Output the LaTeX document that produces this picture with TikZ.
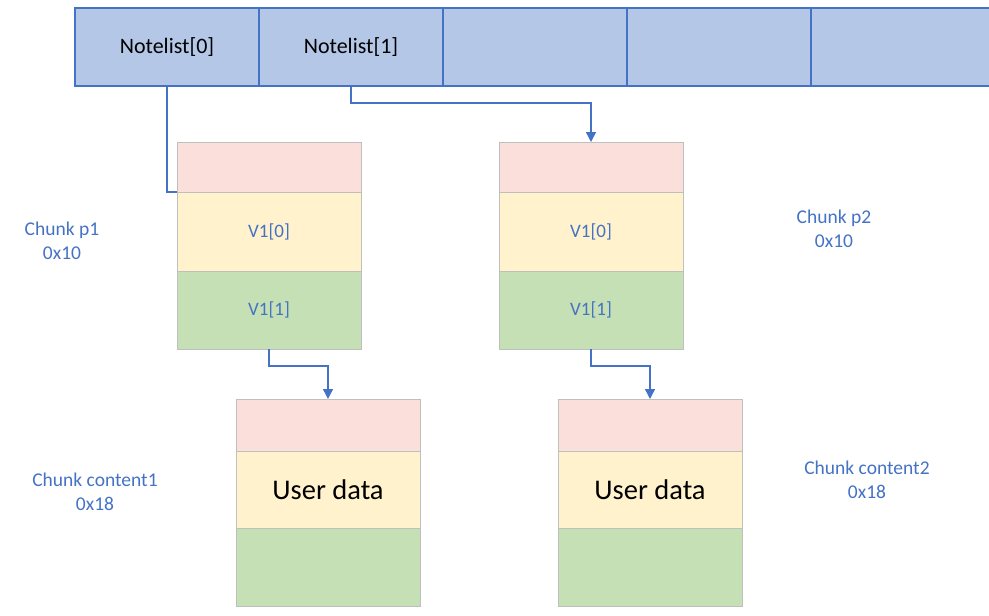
\documentclass[tikz,border=0pt]{standalone}
\usepackage{fontspec}
\setmainfont{Carlito}
\usetikzlibrary{arrows.meta, positioning}

\definecolor{listfill}{HTML}{B4C7E7}
\definecolor{listline}{HTML}{4472C4}
\definecolor{headfill}{HTML}{FADFDA}
\definecolor{datafill}{HTML}{FFF2CC}
\definecolor{tailfill}{HTML}{C5E0B4}
\definecolor{cellline}{HTML}{BFBFBF}

\begin{document}
\begin{tikzpicture}[
          x=1pt, y=-1pt,
          slot/.style={draw=listline, line width=1.5pt, fill=listfill, minimum width=184pt,
                       minimum height=78pt, inner sep=0pt, outer sep=0pt,
                       font=\fontsize{22}{26}\selectfont},
          part/.style={draw=cellline, line width=0.8pt, minimum width=184pt,
                       inner sep=0pt, outer sep=0pt},
          head/.style={part, fill=headfill},
          body/.style={part, fill=datafill, text=listline, font=\fontsize{19}{23}\selectfont},
          tail/.style={part, fill=tailfill, text=listline, font=\fontsize{19}{23}\selectfont},
          tag/.style={align=center, text=listline, font=\fontsize{19.5}{24}\selectfont},
          link/.style={draw=listline, line width=1.4pt},
          arr/.style={link, -{Triangle[length=10pt, width=10pt]}}
        ]
        \useasboundingbox (0,0) rectangle (989,616);

        % the note list
        \node[slot, anchor=north west] (nl0) at (75,8) {Notelist[0]};
        \node[slot, right=0pt of nl0] (nl1) {Notelist[1]};
        \node[slot, right=0pt of nl1] (nl2) {};
        \node[slot, right=0pt of nl2] (nl3) {};
        \node[slot, right=0pt of nl3] (nl4) {};

        % chunks p1 and p2
        \node[head, anchor=north west, minimum height=50pt] (p1head) at (177,142) {};
        \node[body, below=0pt of p1head, minimum height=79pt] (p1data) {V1[0]};
        \node[tail, below=0pt of p1data, minimum height=78pt] (p1tail) {V1[1]};
        \node[head, anchor=north west, minimum height=50pt] (p2head) at (499,142) {};
        \node[body, below=0pt of p2head, minimum height=79pt] (p2data) {V1[0]};
        \node[tail, below=0pt of p2data, minimum height=78pt] (p2tail) {V1[1]};

        % content chunks
        \node[head, anchor=north west, minimum height=52pt] (c1head) at (236,399) {};
        \node[body, below=0pt of c1head, minimum height=77pt, text=black,
              font=\fontsize{28.5}{34}\selectfont] (c1data) {User data};
        \node[tail, below=0pt of c1data, minimum height=78pt] (c1tail) {};
        \node[head, anchor=north west, minimum height=52pt] (c2head) at (558,399) {};
        \node[body, below=0pt of c2head, minimum height=77pt, text=black,
              font=\fontsize{28.5}{34}\selectfont] (c2data) {User data};
        \node[tail, below=0pt of c2data, minimum height=78pt] (c2tail) {};

        % labels
        \node[tag] (p1tag) at (62,241) {Chunk p1\\0x10};
        \node[tag] (p2tag) at (834,229) {Chunk p2\\0x10};
        \node[tag] (c1tag) at (95,492) {Chunk content1\\0x18};
        \node[tag] (c2tag) at (867,480) {Chunk content2\\0x18};

        \draw[link] (nl0.south) |- (p1data.north west);
        \draw[arr] (nl1.south) -- ++(0,17) -| (p2head.north);
        \draw[arr] (p1tail.south) -- ++(0,17) -| (c1head.north);
        \draw[arr] (p2tail.south) -- ++(0,17) -| (c2head.north);
      \end{tikzpicture}
\end{document}
